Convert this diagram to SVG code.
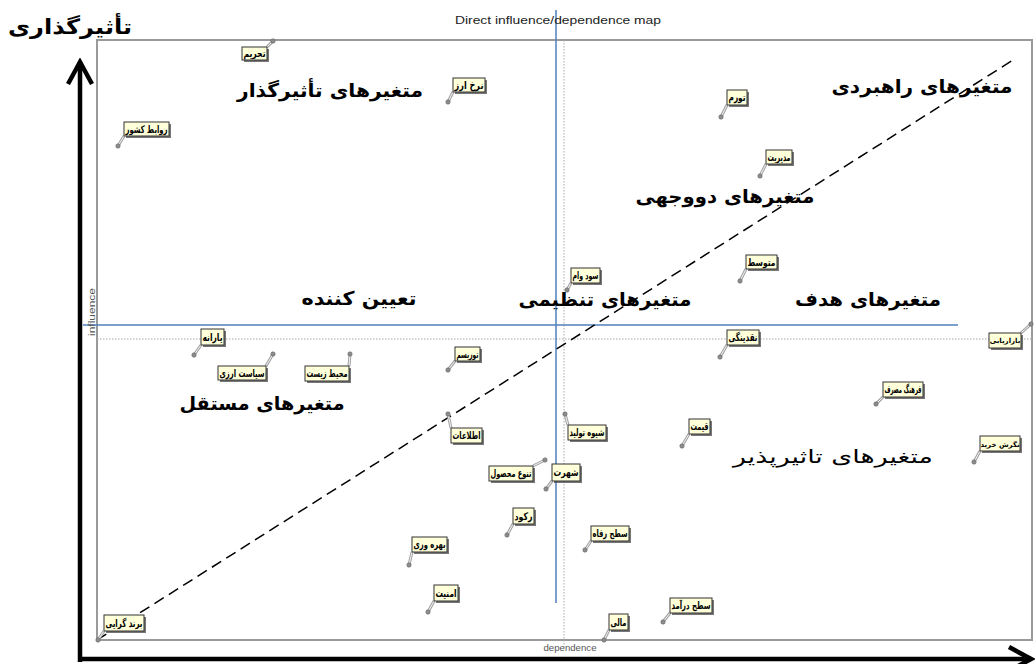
<svg xmlns="http://www.w3.org/2000/svg" width="1035" height="664" viewBox="0 0 1035 664">
<style>
.bg{fill:#fff}
.frame{fill:none;stroke:#9a9a9a;stroke-width:2}
.dot{stroke:#a8a8a8;stroke-width:1;stroke-dasharray:1.5 1.5;fill:none}
.blue{stroke:#4f81bd;stroke-width:1.5;fill:none}
.diag{stroke:#000;stroke-width:1.5;stroke-dasharray:11 6;fill:none}
.axis{stroke:#000;stroke-width:4.5;fill:none}
.title{font-family:"Liberation Sans",Arial,sans-serif;font-size:10px;fill:#222}
.axl{font-family:"Liberation Sans",Arial,sans-serif;font-size:9px;fill:#555}
.big{font-family:"DejaVu Sans",sans-serif;font-weight:bold;font-size:19px;fill:#000}
.reg{font-family:"DejaVu Sans",sans-serif;font-size:19px;fill:#000}
.sh{fill:#4a4a4a;opacity:.75}
.box{fill:#ffffd9;stroke:#333;stroke-width:1}
.lt{font-family:"DejaVu Sans",sans-serif;font-weight:bold;font-size:10.5px;fill:#000}
.lts{font-family:"DejaVu Sans",sans-serif;font-weight:bold;font-size:7px;fill:#000}
.ldo{stroke:#a4a4a4;stroke-width:3;fill:none}
.ldi{stroke:#f2f2f2;stroke-width:1;fill:none}
.pin{fill:#8c8c8c;stroke:#666;stroke-width:.6}
</style>
<defs>
<marker id="ah" markerUnits="userSpaceOnUse" markerWidth="30" markerHeight="30" viewBox="0 0 30 30" refX="26" refY="15" orient="auto">
<path d="M4,3 L26,15 L4,27" fill="none" stroke="#000" stroke-width="4.5"/>
</marker>
</defs>
<rect class="bg" x="0" y="0" width="1035" height="664"/>

<g id="chart">
<rect class="frame" x="97" y="40" width="935" height="600"/>
<line class="dot" x1="564" y1="40" x2="564" y2="648"/>
<line class="dot" x1="97" y1="339" x2="1032" y2="339"/>
<line class="blue" x1="556" y1="10" x2="556" y2="603"/>
<line class="blue" x1="83" y1="325" x2="958" y2="325"/>
<line class="diag" x1="97" y1="640" x2="1013" y2="60"/>
<text class="title" x="558" y="24" text-anchor="middle" textLength="206" lengthAdjust="spacingAndGlyphs">Direct influence/dependence map</text>
<text class="axl" transform="translate(95,312) rotate(-90)" text-anchor="middle" textLength="48" lengthAdjust="spacingAndGlyphs">influence</text>
<text class="axl" x="570" y="651" text-anchor="middle" textLength="53" lengthAdjust="spacingAndGlyphs">dependence</text>
</g>

<g id="axes">
<path class="axis" d="M80,662 V62" marker-end="url(#ah)"/>
<path class="axis" d="M78,659 H1031" marker-end="url(#ah)"/>
</g>

<g id="zones">
<text class="big" x="70" y="34" text-anchor="middle" style="font-size:21px" textLength="124" lengthAdjust="spacingAndGlyphs">تأثیرگذاری</text>
<text class="big" x="330" y="97" text-anchor="middle" textLength="186" lengthAdjust="spacingAndGlyphs">متغیرهای تأثیرگذار</text>
<text class="big" x="922" y="93" text-anchor="middle" textLength="181" lengthAdjust="spacingAndGlyphs">متغیرهای راهبردی</text>
<text class="big" x="725" y="203" text-anchor="middle" textLength="179" lengthAdjust="spacingAndGlyphs">متغیرهای دووجهی</text>
<text class="big" x="359" y="305" text-anchor="middle" textLength="115" lengthAdjust="spacingAndGlyphs">تعیین کننده</text>
<text class="big" x="605" y="306" text-anchor="middle" textLength="173" lengthAdjust="spacingAndGlyphs">متغیرهای تنظیمی</text>
<text class="big" x="868" y="306" text-anchor="middle" textLength="146" lengthAdjust="spacingAndGlyphs">متغیرهای هدف</text>
<text class="big" x="262" y="410" text-anchor="middle" textLength="165" lengthAdjust="spacingAndGlyphs">متغیرهای مستقل</text>
<text class="reg" x="833" y="463" text-anchor="middle" textLength="200" lengthAdjust="spacingAndGlyphs">متغیرهای تاثیرپذیر</text>
</g>

<g id="connectors">
<path class="ldo" d="M273,41L267,47M448,102L453,92M118,146L124,136M721,117L727,105M760,176L766,164M740,281L746,269M567,290L571,283M720,357L727,345M1031,324L1021,333M194,355L201,345M273,354L266,366M350,354L349,366M448,370L455,361M448,414L451,428M565,414L568,425M682,446L689,434M876,404L883,397M974,462L980,451M545,460L533,466M546,489L552,481M507,535L513,524M585,550L591,541M409,565L412,552M428,612L434,601M663,622L670,613M604,640L609,630M98,640L104,631"/>
<path class="ldi" d="M273,41L267,47M448,102L453,92M118,146L124,136M721,117L727,105M760,176L766,164M740,281L746,269M567,290L571,283M720,357L727,345M1031,324L1021,333M194,355L201,345M273,354L266,366M350,354L349,366M448,370L455,361M448,414L451,428M565,414L568,425M682,446L689,434M876,404L883,397M974,462L980,451M545,460L533,466M546,489L552,481M507,535L513,524M585,550L591,541M409,565L412,552M428,612L434,601M663,622L670,613M604,640L609,630M98,640L104,631"/>
</g>

<g id="n1"><rect class="sh" x="244" y="49" width="25" height="13"/><rect class="box" x="242" y="47" width="25" height="13"/><text class="lt" x="254.5" y="57" text-anchor="middle" textLength="22" lengthAdjust="spacingAndGlyphs">تحریم</text><circle class="pin" cx="273" cy="41" r="2.2"/></g>
<g id="n2"><rect class="sh" x="455" y="80" width="32" height="14"/><rect class="box" x="453" y="78" width="32" height="14"/><text class="lt" x="469" y="88.5" text-anchor="middle" textLength="29" lengthAdjust="spacingAndGlyphs">نرخ ارز</text><circle class="pin" cx="448" cy="102" r="2.2"/></g>
<g id="n3"><rect class="sh" x="126" y="124" width="45" height="14"/><rect class="box" x="124" y="122" width="45" height="14"/><text class="lt" x="146.5" y="132.5" text-anchor="middle" textLength="42" lengthAdjust="spacingAndGlyphs">روابط کشور</text><circle class="pin" cx="118" cy="146" r="2.2"/></g>
<g id="n4"><rect class="sh" x="729" y="92" width="20" height="15"/><rect class="box" x="727" y="90" width="20" height="15"/><text class="lt" x="737" y="101" text-anchor="middle" textLength="17" lengthAdjust="spacingAndGlyphs">تورم</text><circle class="pin" cx="721" cy="117" r="2.2"/></g>
<g id="n5"><rect class="sh" x="768" y="152" width="26" height="14"/><rect class="box" x="766" y="150" width="26" height="14"/><text class="lt" x="779" y="160.5" text-anchor="middle" textLength="23" lengthAdjust="spacingAndGlyphs">مدیریت</text><circle class="pin" cx="760" cy="176" r="2.2"/></g>
<g id="n6"><rect class="sh" x="748" y="257" width="31" height="14"/><rect class="box" x="746" y="255" width="31" height="14"/><text class="lt" x="761.5" y="265.5" text-anchor="middle" textLength="28" lengthAdjust="spacingAndGlyphs">متوسط</text><circle class="pin" cx="740" cy="281" r="2.2"/></g>
<g id="n7"><rect class="sh" x="573" y="270" width="29" height="15"/><rect class="box" x="571" y="268" width="29" height="15"/><text class="lt" x="585.5" y="279" text-anchor="middle" textLength="26" lengthAdjust="spacingAndGlyphs">سود وام</text><circle class="pin" cx="567" cy="290" r="2.2"/></g>
<g id="n8"><rect class="sh" x="729" y="332" width="32" height="15"/><rect class="box" x="727" y="330" width="32" height="15"/><text class="lt" x="743" y="341" text-anchor="middle" textLength="29" lengthAdjust="spacingAndGlyphs">نقدینگی</text><circle class="pin" cx="720" cy="357" r="2.2"/></g>
<g id="n9"><rect class="sh" x="991" y="335" width="32" height="15"/><rect class="box" x="989" y="333" width="32" height="15"/><text class="lts" x="1005" y="343" text-anchor="middle">بازاریابی</text><circle class="pin" cx="1031" cy="324" r="2.2"/></g>
<g id="n10"><rect class="sh" x="203" y="331" width="23" height="16"/><rect class="box" x="201" y="329" width="23" height="16"/><text class="lt" x="212.5" y="340.5" text-anchor="middle" textLength="20" lengthAdjust="spacingAndGlyphs">یارانه</text><circle class="pin" cx="194" cy="355" r="2.2"/></g>
<g id="n11"><rect class="sh" x="220" y="368" width="48" height="14"/><rect class="box" x="218" y="366" width="48" height="14"/><text class="lt" x="242" y="376.5" text-anchor="middle" textLength="45" lengthAdjust="spacingAndGlyphs">سیاست ارزی</text><circle class="pin" cx="273" cy="354" r="2.2"/></g>
<g id="n12"><rect class="sh" x="307" y="368" width="44" height="15"/><rect class="box" x="305" y="366" width="44" height="15"/><text class="lt" x="327" y="377" text-anchor="middle" textLength="41" lengthAdjust="spacingAndGlyphs">محیط زیست</text><circle class="pin" cx="350" cy="354" r="2.2"/></g>
<g id="n13"><rect class="sh" x="457" y="349" width="25" height="14"/><rect class="box" x="455" y="347" width="25" height="14"/><text class="lt" x="467.5" y="357.5" text-anchor="middle" textLength="22" lengthAdjust="spacingAndGlyphs">توریسم</text><circle class="pin" cx="448" cy="370" r="2.2"/></g>
<g id="n14"><rect class="sh" x="453" y="430" width="31" height="15"/><rect class="box" x="451" y="428" width="31" height="15"/><text class="lt" x="466.5" y="439" text-anchor="middle" textLength="28" lengthAdjust="spacingAndGlyphs">اطلاعات</text><circle class="pin" cx="448" cy="414" r="2.2"/></g>
<g id="n15"><rect class="sh" x="570" y="427" width="38" height="15"/><rect class="box" x="568" y="425" width="38" height="15"/><text class="lt" x="587" y="436" text-anchor="middle" textLength="35" lengthAdjust="spacingAndGlyphs">شیوه تولید</text><circle class="pin" cx="565" cy="414" r="2.2"/></g>
<g id="n16"><rect class="sh" x="691" y="421" width="21" height="15"/><rect class="box" x="689" y="419" width="21" height="15"/><text class="lt" x="699.5" y="430" text-anchor="middle" textLength="18" lengthAdjust="spacingAndGlyphs">قیمت</text><circle class="pin" cx="682" cy="446" r="2.2"/></g>
<g id="n17"><rect class="sh" x="885" y="384" width="40" height="15"/><rect class="box" x="883" y="382" width="40" height="15"/><text class="lt" x="903" y="393" text-anchor="middle" textLength="37" lengthAdjust="spacingAndGlyphs">فرهنگ مصرف</text><circle class="pin" cx="876" cy="404" r="2.2"/></g>
<g id="n18"><rect class="sh" x="982" y="438" width="40" height="15"/><rect class="box" x="980" y="436" width="40" height="15"/><text class="lts" x="1000" y="446.5" text-anchor="middle">نگرش خرید</text><circle class="pin" cx="974" cy="462" r="2.2"/></g>
<g id="n19"><rect class="sh" x="491" y="468" width="44" height="15"/><rect class="box" x="489" y="466" width="44" height="15"/><text class="lt" x="511" y="477" text-anchor="middle" textLength="41" lengthAdjust="spacingAndGlyphs">تنوع محصول</text><circle class="pin" cx="545" cy="460" r="2.2"/></g>
<g id="n20"><rect class="sh" x="554" y="466" width="28" height="17"/><rect class="box" x="552" y="464" width="28" height="17"/><text class="lt" x="566" y="476" text-anchor="middle" textLength="25" lengthAdjust="spacingAndGlyphs">شهرت</text><circle class="pin" cx="546" cy="489" r="2.2"/></g>
<g id="n21"><rect class="sh" x="515" y="510" width="21" height="16"/><rect class="box" x="513" y="508" width="21" height="16"/><text class="lt" x="523.5" y="519.5" text-anchor="middle" textLength="18" lengthAdjust="spacingAndGlyphs">رکود</text><circle class="pin" cx="507" cy="535" r="2.2"/></g>
<g id="n22"><rect class="sh" x="593" y="528" width="38" height="15"/><rect class="box" x="591" y="526" width="38" height="15"/><text class="lt" x="610" y="537" text-anchor="middle" textLength="35" lengthAdjust="spacingAndGlyphs">سطح رفاه</text><circle class="pin" cx="585" cy="550" r="2.2"/></g>
<g id="n23"><rect class="sh" x="414" y="539" width="35" height="15"/><rect class="box" x="412" y="537" width="35" height="15"/><text class="lt" x="429.5" y="548" text-anchor="middle" textLength="32" lengthAdjust="spacingAndGlyphs">بهره وری</text><circle class="pin" cx="409" cy="565" r="2.2"/></g>
<g id="n24"><rect class="sh" x="436" y="587" width="24" height="16"/><rect class="box" x="434" y="585" width="24" height="16"/><text class="lt" x="446" y="596.5" text-anchor="middle" textLength="21" lengthAdjust="spacingAndGlyphs">امنیت</text><circle class="pin" cx="428" cy="612" r="2.2"/></g>
<g id="n25"><rect class="sh" x="672" y="600" width="42" height="15"/><rect class="box" x="670" y="598" width="42" height="15"/><text class="lt" x="691" y="609" text-anchor="middle" textLength="39" lengthAdjust="spacingAndGlyphs">سطح درآمد</text><circle class="pin" cx="663" cy="622" r="2.2"/></g>
<g id="n26"><rect class="sh" x="611" y="616" width="19" height="16"/><rect class="box" x="609" y="614" width="19" height="16"/><text class="lt" x="618.5" y="625.5" text-anchor="middle" textLength="16" lengthAdjust="spacingAndGlyphs">مالی</text><circle class="pin" cx="604" cy="640" r="2.2"/></g>
<g id="n27"><rect class="sh" x="106" y="617" width="40" height="16"/><rect class="box" x="104" y="615" width="40" height="16"/><text class="lt" x="124" y="626.5" text-anchor="middle" textLength="37" lengthAdjust="spacingAndGlyphs">برند گرایی</text><circle class="pin" cx="98" cy="640" r="2.2"/></g>
</svg>
